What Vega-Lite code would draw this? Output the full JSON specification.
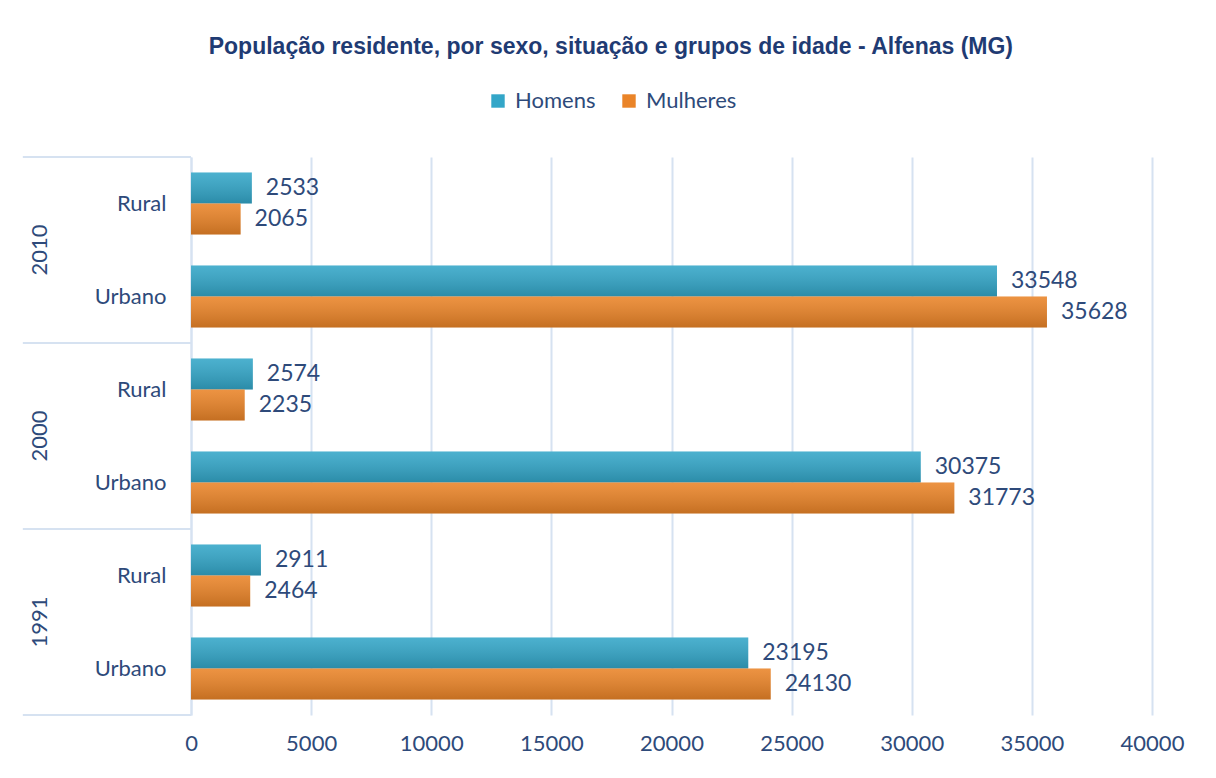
{
  "$schema": "https://vega.github.io/schema/vega-lite/v6.json",
  "width": 961,
  "height": 558,
  "autosize": {"type": "none"},
  "padding": {"left": 191, "top": 157, "right": 64, "bottom": 63},
  "background": "white",
  "title": {
    "text": "População residente, por sexo, situação e grupos de idade - Alfenas (MG)",
    "font": "Liberation Sans",
    "fontSize": 23,
    "fontWeight": "bold",
    "color": "#1F3B73",
    "anchor": "middle",
    "frame": "bounds",
    "offset": 31,
    "dx": 8
  },
  "config": {
    "view": {"stroke": null},
    "font": "Lato"
  },
  "datasets": {
    "pop": [
      {"ano": "2010", "situacao": "Rural", "grupo": "2010|Rural", "sexo": "Homens", "pop": 2533},
      {"ano": "2010", "situacao": "Rural", "grupo": "2010|Rural", "sexo": "Mulheres", "pop": 2065},
      {"ano": "2010", "situacao": "Urbano", "grupo": "2010|Urbano", "sexo": "Homens", "pop": 33548},
      {"ano": "2010", "situacao": "Urbano", "grupo": "2010|Urbano", "sexo": "Mulheres", "pop": 35628},
      {"ano": "2000", "situacao": "Rural", "grupo": "2000|Rural", "sexo": "Homens", "pop": 2574},
      {"ano": "2000", "situacao": "Rural", "grupo": "2000|Rural", "sexo": "Mulheres", "pop": 2235},
      {"ano": "2000", "situacao": "Urbano", "grupo": "2000|Urbano", "sexo": "Homens", "pop": 30375},
      {"ano": "2000", "situacao": "Urbano", "grupo": "2000|Urbano", "sexo": "Mulheres", "pop": 31773},
      {"ano": "1991", "situacao": "Rural", "grupo": "1991|Rural", "sexo": "Homens", "pop": 2911},
      {"ano": "1991", "situacao": "Rural", "grupo": "1991|Rural", "sexo": "Mulheres", "pop": 2464},
      {"ano": "1991", "situacao": "Urbano", "grupo": "1991|Urbano", "sexo": "Homens", "pop": 23195},
      {"ano": "1991", "situacao": "Urbano", "grupo": "1991|Urbano", "sexo": "Mulheres", "pop": 24130}
    ],
    "separadores": [
      {"grupo": "2010|Rural"},
      {"grupo": "2000|Rural"},
      {"grupo": "1991|Rural"}
    ],
    "fundo": [
      {"grupo": "1991|Urbano"}
    ],
    "anos": [
      {"ano": "2010", "grupo": "2010|Urbano"},
      {"ano": "2000", "grupo": "2000|Urbano"},
      {"ano": "1991", "grupo": "1991|Urbano"}
    ]
  },
  "layer": [
    {
      "data": {"name": "pop"},
      "mark": {"type": "bar"},
      "encoding": {
        "y": {
          "field": "grupo",
          "type": "nominal",
          "sort": ["2010|Rural", "2010|Urbano", "2000|Rural", "2000|Urbano", "1991|Rural", "1991|Urbano"],
          "scale": {"domain": ["2010|Rural", "2010|Urbano", "2000|Rural", "2000|Urbano", "1991|Rural", "1991|Urbano"], "paddingInner": 0, "paddingOuter": 0},
          "axis": {
            "title": null,
            "labelExpr": "split(datum.label, '|')[1]",
            "labelFontSize": 22,
            "labelColor": "#2E4A7A",
            "labelPadding": 25,
            "ticks": false,
            "domainColor": "#D6E2F1",
            "domainWidth": 2
          }
        },
        "yOffset": {
          "field": "sexo",
          "type": "nominal",
          "sort": ["Homens", "Mulheres"],
          "scale": {"paddingInner": 0, "paddingOuter": 0.5}
        },
        "x": {
          "field": "pop",
          "type": "quantitative",
          "scale": {"domain": [0, 40000], "nice": false},
          "axis": {
            "title": null,
            "values": [0, 5000, 10000, 15000, 20000, 25000, 30000, 35000, 40000],
            "format": "d",
            "grid": true,
            "gridColor": "#D6E2F1",
            "gridWidth": 2,
            "domain": false,
            "ticks": false,
            "labelFlush": false,
            "labelFontSize": 22,
            "labelColor": "#2E4A7A",
            "labelPadding": 18
          }
        },
        "color": {
          "field": "sexo",
          "type": "nominal",
          "sort": ["Homens", "Mulheres"],
          "scale": {
            "domain": ["Homens", "Mulheres"],
            "range": ["#33A6C8", "#EA8428"]
          },
          "legend": {
            "title": null,
            "orient": "none",
            "direction": "horizontal",
            "legendX": 296,
            "legendY": -67,
            "symbolType": "square",
            "symbolSize": 180,
            "symbolStrokeWidth": 0,
            "symbolOpacity": 1,
            "labelFontSize": 22,
            "labelColor": "#2E4A7A",
            "labelOffset": 6,
            "columnPadding": 22
          }
        }
      }
    },
    {
      "data": {"name": "pop"},
      "mark": {
        "type": "bar",
        "color": {
          "gradient": "linear", "x1": 0, "y1": 0, "x2": 0, "y2": 1,
          "stops": [
            {"offset": 0, "color": "rgba(255,255,255,0.12)"},
            {"offset": 1, "color": "rgba(0,0,0,0.16)"}
          ]
        }
      },
      "encoding": {
        "y": {"field": "grupo", "type": "nominal"},
        "yOffset": {"field": "sexo", "type": "nominal", "sort": ["Homens", "Mulheres"]},
        "x": {"field": "pop", "type": "quantitative"}
      }
    },
    {
      "data": {"name": "pop"},
      "mark": {"type": "text", "align": "left", "baseline": "middle", "dx": 14, "fontSize": 23, "color": "#2E4A7A"},
      "encoding": {
        "y": {"field": "grupo", "type": "nominal"},
        "yOffset": {"field": "sexo", "type": "nominal", "sort": ["Homens", "Mulheres"]},
        "x": {"field": "pop", "type": "quantitative"},
        "text": {"field": "pop", "type": "quantitative", "format": "d"}
      }
    },
    {
      "data": {"name": "separadores"},
      "mark": {"type": "rule", "color": "#D6E2F1", "strokeWidth": 2},
      "encoding": {
        "y": {"field": "grupo", "type": "nominal", "bandPosition": 0},
        "x": {"datum": -7000},
        "x2": {"datum": 0}
      }
    },
    {
      "data": {"name": "fundo"},
      "mark": {"type": "rule", "color": "#D6E2F1", "strokeWidth": 2},
      "encoding": {
        "y": {"field": "grupo", "type": "nominal", "bandPosition": 1},
        "x": {"datum": -7000},
        "x2": {"datum": 0}
      }
    },
    {
      "data": {"name": "anos"},
      "mark": {"type": "text", "angle": 270, "align": "center", "baseline": "middle", "fontSize": 22, "color": "#2E4A7A"},
      "encoding": {
        "y": {"field": "grupo", "type": "nominal", "bandPosition": 0},
        "x": {"datum": -6300},
        "text": {"field": "ano"}
      }
    }
  ]
}
